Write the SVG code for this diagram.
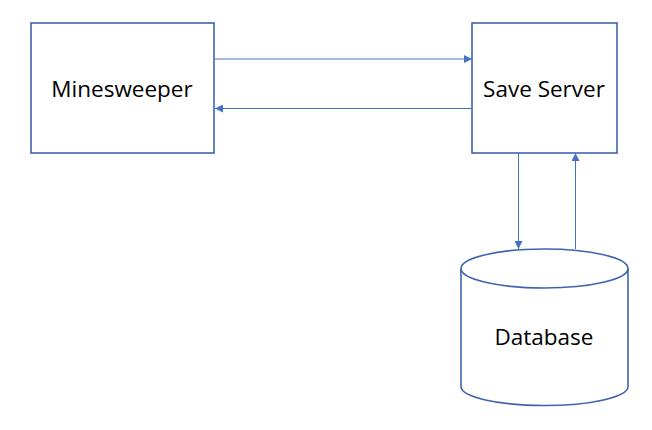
<svg xmlns="http://www.w3.org/2000/svg" width="652" height="430" viewBox="0 0 652 430">
<style>
.box{fill:#fff;stroke:#3F64AE;stroke-width:1.6}
.lbl{font-family:"Open Sans","Noto Sans",sans-serif;font-size:22.5px;fill:#000;text-anchor:middle}
.con{fill:none;stroke:#4472C4;stroke-width:1}
</style>
<defs>
<marker id="ah" markerWidth="8" markerHeight="8" refX="8" refY="4" orient="auto" markerUnits="userSpaceOnUse">
<path d="M0,0 L8,4 L0,8 Z" fill="#4472C4"/>
</marker>
</defs>
<rect width="652" height="430" fill="#fff"/>
<g id="minesweeper">
<rect class="box" x="31" y="23" width="183" height="130"/>
<text class="lbl" x="122" y="97">Minesweeper</text>
</g>
<g id="save-server">
<rect class="box" x="472" y="23" width="145" height="130"/>
<text class="lbl" x="544" y="97">Save Server</text>
</g>
<g id="database">
<path class="box" d="M461,268.5 L461,386.5 A83.5,19 0 0 0 628,386.5 L628,268.5"/>
<ellipse class="box" cx="544.5" cy="268.5" rx="83.5" ry="19.5"/>
<text class="lbl" x="544" y="345">Database</text>
</g>
<g id="connectors">
<line class="con" x1="215" y1="59" x2="472" y2="59" marker-end="url(#ah)"/>
<line class="con" x1="472" y1="108.5" x2="215" y2="108.5" marker-end="url(#ah)"/>
<line class="con" x1="518.5" y1="153" x2="518.5" y2="249" marker-end="url(#ah)"/>
<line class="con" x1="575.5" y1="249" x2="575.5" y2="153" marker-end="url(#ah)"/>
</g>
</svg>
